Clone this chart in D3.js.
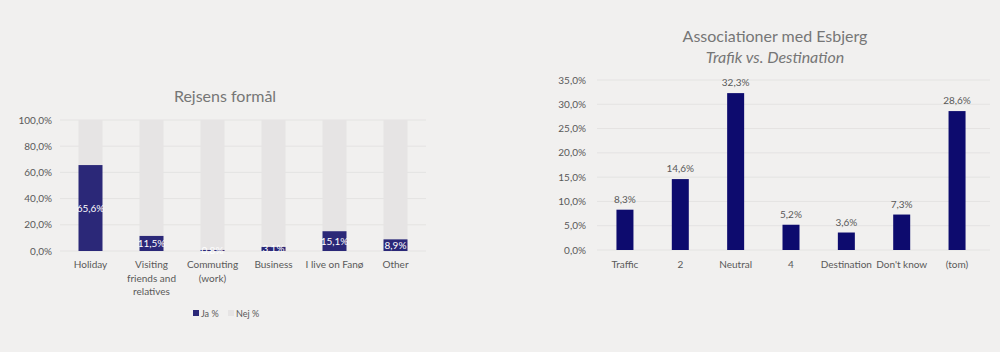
<!DOCTYPE html>
<html><head><meta charset="utf-8">
<script src="https://cdn.jsdelivr.net/npm/d3@7"></script>
<style>
html,body{margin:0;padding:0;background:#f1f0ef;}
svg{display:block;font-family:Lato,"Open Sans",sans-serif;}
</style></head><body>
<svg id="c" width="1000" height="352"></svg>
<script>
const purposeCats = [["Holiday"],["Visiting","friends and","relatives"],["Commuting","(work)"],["Business"],["I live on Fanø"],["Other"]];
const jaValues = [65.6, 11.5, 0.8, 3.1, 15.1, 8.9];
const nejValues = jaValues.map(v => 100 - v);
const leftTicks = [0,20,40,60,80,100];
const legendLabels = ["Ja %","Nej %"];

const assocCats = ["Traffic","2","Neutral","4","Destination","Don't know","(tom)"];
const assocValues = [8.3, 14.6, 32.3, 5.2, 3.6, 7.3, 28.6];
const rightTicks = [0,5,10,15,20,25,30,35];

const fmt = v => d3.format(".1f")(v).replace(".", ",") + "%";
const svg = d3.select("#c");
const textCol = "#595959";

// LEFT CHART
{
  const x = d3.scaleBand().domain(d3.range(purposeCats.length)).range([60, 426]).paddingInner(0.6).paddingOuter(0.3);
  const y = d3.scaleLinear().domain([0,100]).range([251,120]);
  const g = svg.append("g");
  g.append("text").attr("x",225).attr("y",102).attr("text-anchor","middle").attr("font-size",16).attr("fill","#767676").text("Rejsens formål");
  g.selectAll(".gl").data(leftTicks).join("line").attr("x1",60).attr("x2",426).attr("y1",d=>y(d)).attr("y2",d=>y(d)).attr("stroke","#e4e3e2").attr("stroke-width",1);
  g.selectAll(".yt").data(leftTicks).join("text").attr("x",52).attr("y",d=>y(d)+3.5).attr("text-anchor","end").attr("font-size",10).attr("fill",textCol).text(d=>fmt(d));
  const bw = 24;
  const cx = i => x(i) + x.bandwidth()/2;
  g.selectAll(".nej").data(nejValues).join("rect").attr("x",(d,i)=>cx(i)-bw/2).attr("width",bw).attr("y",(d,i)=>y(jaValues[i]+d)).attr("height",(d,i)=>y(jaValues[i])-y(jaValues[i]+d)).attr("fill","#e6e4e4");
  g.selectAll(".ja").data(jaValues).join("rect").attr("x",(d,i)=>cx(i)-bw/2).attr("width",bw).attr("y",d=>y(d)).attr("height",d=>y(0)-y(d)).attr("fill","#2b2878");
  g.selectAll(".jl").data(jaValues).join("text").attr("x",(d,i)=>cx(i)).attr("y",d=>(y(d)+y(0))/2+3.5).attr("text-anchor","middle").attr("font-size",10).attr("fill","#ffffff").text(d=>fmt(d));
  const cl = g.selectAll(".cl").data(purposeCats).join("text").attr("x",(d,i)=>cx(i)).attr("y",268).attr("text-anchor","middle").attr("font-size",10).attr("fill",textCol);
  cl.selectAll("tspan").data(d=>d).join("tspan").attr("x",function(){return this.parentNode.getAttribute("x");}).attr("dy",(d,i)=>i?13.5:0).text(d=>d);
  // legend
  const lg = g.append("g");
  lg.append("rect").attr("x",193).attr("y",310).attr("width",6).attr("height",6).attr("fill","#2b2878");
  lg.append("text").attr("x",201).attr("y",317).attr("font-size",9).attr("fill",textCol).text(legendLabels[0]);
  lg.append("rect").attr("x",228).attr("y",310).attr("width",6).attr("height",6).attr("fill","#e6e4e4");
  lg.append("text").attr("x",236).attr("y",317).attr("font-size",9).attr("fill",textCol).text(legendLabels[1]);
}

// RIGHT CHART
{
  const x = d3.scaleBand().domain(assocCats).range([597, 985]).paddingInner(0.69).paddingOuter(0.35);
  const y = d3.scaleLinear().domain([0,35]).range([250,80]);
  const g = svg.append("g");
  g.append("text").attr("x",775).attr("y",42).attr("text-anchor","middle").attr("font-size",16).attr("fill","#767676").text("Associationer med Esbjerg");
  g.append("text").attr("x",775).attr("y",63).attr("text-anchor","middle").attr("font-size",16).attr("font-style","italic").attr("fill","#767676").text("Trafik vs. Destination");
  g.selectAll(".gl").data(rightTicks).join("line").attr("x1",597).attr("x2",990).attr("y1",d=>y(d)).attr("y2",d=>y(d)).attr("stroke","#e4e3e2");
  g.selectAll(".yt").data(rightTicks).join("text").attr("x",586).attr("y",d=>y(d)+3.5).attr("text-anchor","end").attr("font-size",10).attr("fill",textCol).text(d=>fmt(d));
  const bw = 17;
  const cx = d => x(d) + x.bandwidth()/2;
  g.selectAll(".b").data(assocValues).join("rect").attr("x",(d,i)=>cx(assocCats[i])-bw/2).attr("width",bw).attr("y",d=>y(d)).attr("height",d=>y(0)-y(d)).attr("fill","#0d0b6e");
  g.selectAll(".vl").data(assocValues).join("text").attr("x",(d,i)=>cx(assocCats[i])).attr("y",d=>y(d)-7).attr("text-anchor","middle").attr("font-size",10).attr("fill",textCol).text(d=>fmt(d));
  g.selectAll(".cl").data(assocCats).join("text").attr("x",d=>cx(d)).attr("y",268).attr("text-anchor","middle").attr("font-size",10).attr("fill",textCol).text(d=>d);
}
</script></body></html>
